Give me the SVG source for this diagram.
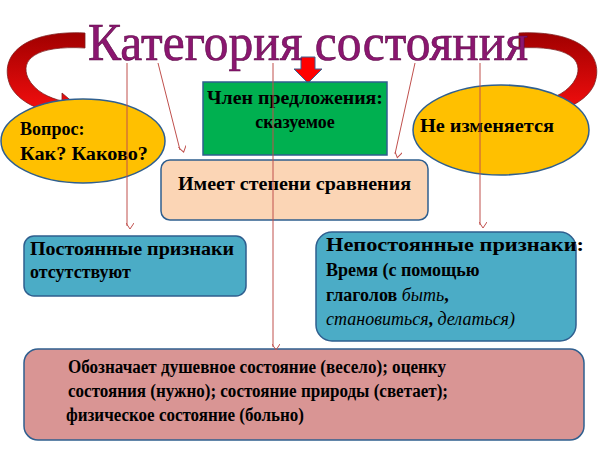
<svg xmlns="http://www.w3.org/2000/svg" width="604" height="453" viewBox="0 0 604 453">
<style>
.ln{stroke:#C0504D;stroke-width:1;fill:none;marker-end:url(#v)}
.bx{stroke:#2F5F8F;stroke-width:1.5}
</style>
<defs>
<marker id="v" markerWidth="8" markerHeight="8" refX="4" refY="7" orient="auto" markerUnits="userSpaceOnUse"><path d="M0,1 L4,7 L8,1" transform="rotate(-90 4 4)" fill="none" stroke="#C0504D"/></marker>
<linearGradient id="rg" x1="0" y1="0" x2="0" y2="1"><stop offset="0" stop-color="#A00000"/><stop offset="1" stop-color="#FF1010"/></linearGradient>
</defs>
<rect width="604" height="453" fill="#fff"/>
<g id="arrows-curved">
<path d="M85,48 C35,45 20,60 28,78 C35,92 50,98 62,101 L62,93 L82,110 L60,122 L60,114 C40,111 18,102 10,85 C-2,55 25,30 85,33 Z" fill="url(#rg)" stroke="#7F2020" stroke-width="0.8"/>
<path d="M519,48 C569,45 584,60 576,78 C569,92 554,98 542,101 L542,93 L522,110 L544,122 L544,114 C564,111 586,102 594,85 C606,55 579,30 519,33 Z" fill="url(#rg)" stroke="#7F2020" stroke-width="0.8"/>
<path d="M301,57 L315,57 L315,69 L322,69 L308,83 L294,69 L301,69 Z" fill="#FF0000" stroke="#3F5F8F" stroke-width="1"/>
</g>
<g id="title"><text x="88" y="60" font-family="'Liberation Serif',serif" font-size="52" fill="#8B1670" stroke="#5A0A45" stroke-width="0.6" textLength="440" lengthAdjust="spacingAndGlyphs">Категория состояния</text></g>
<g font-family="'Liberation Serif','Noto Serif','DejaVu Serif',serif" font-weight="bold" font-size="18" fill="#000">
<g id="green"><rect x="203" y="82" width="184" height="73" fill="#00B050" class="bx"/><text x="295" y="104" text-anchor="middle" textLength="176" lengthAdjust="spacingAndGlyphs">Член предложения:</text><text x="295" y="128" text-anchor="middle">сказуемое</text></g>
<g id="left-ellipse"><ellipse cx="83" cy="141" rx="82" ry="42" fill="#FFC000" class="bx"/><text x="20" y="135">Вопрос:</text><text x="20" y="160" textLength="128" lengthAdjust="spacingAndGlyphs">Как? Каково?</text></g>
<g id="right-ellipse"><ellipse cx="501" cy="130" rx="88" ry="45" fill="#FFC000" class="bx"/><text x="420" y="132" textLength="134" lengthAdjust="spacingAndGlyphs">Не изменяется</text></g>
<g id="peach"><rect x="161" y="160" width="267" height="60" rx="9" fill="#FBD5B5" class="bx"/><text x="178" y="190" textLength="233" lengthAdjust="spacingAndGlyphs">Имеет степени сравнения</text></g>
<g id="left-blue"><rect x="24" y="236" width="222" height="60" rx="10" fill="#4BACC6" class="bx"/><text x="30" y="255" textLength="204" lengthAdjust="spacingAndGlyphs">Постоянные признаки</text><text x="30" y="278">отсутствуют</text></g>
<g id="right-blue"><rect x="316" y="232" width="260" height="109" rx="16" fill="#4BACC6" class="bx"/>
<text x="326" y="251" textLength="258" lengthAdjust="spacingAndGlyphs">Непостоянные признаки:</text><text x="326" y="276">Время (с помощью</text><text x="326" y="301">глаголов <tspan font-style="italic" font-weight="normal">быть</tspan>,</text><text x="326" y="325"><tspan font-style="italic" font-weight="normal">становиться</tspan>, <tspan font-style="italic" font-weight="normal">делаться)</tspan></text></g>
<g id="pink"><rect x="24" y="349" width="560" height="91" rx="14" fill="#D99594" class="bx"/>
<text x="68" y="373" textLength="378" lengthAdjust="spacingAndGlyphs">Обозначает душевное состояние (весело); оценку</text><text x="68" y="397" textLength="380" lengthAdjust="spacingAndGlyphs">состояния (нужно); состояние природы (светает);</text><text x="66" y="421" textLength="238" lengthAdjust="spacingAndGlyphs">физическое состояние (больно)</text></g>
</g>
<g id="connectors">
<line class="ln" x1="127" y1="63" x2="127" y2="226"/>
<line class="ln" x1="158" y1="63" x2="180" y2="150"/>
<line class="ln" x1="273" y1="63" x2="273" y2="347"/>
<line class="ln" x1="415" y1="63" x2="395" y2="154"/>
<line class="ln" x1="480" y1="63" x2="480" y2="225"/>
</g>
</svg>
